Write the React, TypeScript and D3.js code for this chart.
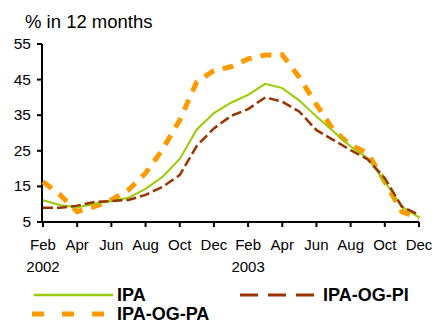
import React from "react";
import * as d3 from "d3";

const monthLabels = ["Feb", "Apr", "Jun", "Aug", "Oct", "Dec", "Feb", "Apr", "Jun", "Aug", "Oct", "Dec"];
const yearLabels = [
  { idx: 0, label: "2002" },
  { idx: 12, label: "2003" },
];
const yTicks = [5, 15, 25, 35, 45, 55];

const ipa = [11.1, 9.8, 9.1, 10.1, 10.9, 11.8, 14.3, 17.7, 22.7, 31.0, 35.6, 38.5, 40.7, 43.8, 42.6, 39.1, 34.6, 30.4, 26.2, 22.9, 16.3, 9.3, 6.3];
const ipaOgPi = [9.0, 9.0, 9.6, 10.6, 10.9, 11.2, 12.6, 14.9, 18.2, 26.4, 31.3, 34.8, 36.7, 40.0, 38.8, 36.0, 30.8, 28.0, 25.2, 22.6, 17.3, 9.3, 7.0];
const ipaOgPa = [16.3, 12.6, 7.9, 9.3, 11.2, 14.0, 18.7, 25.4, 33.6, 44.4, 47.5, 48.6, 50.8, 51.9, 52.0, 45.6, 38.0, 30.8, 26.6, 24.3, 16.3, 7.9, 6.0];

const W = 445;
const H = 324;
const FONT = "Arial, 'Liberation Sans', Helvetica, sans-serif";

export default function App() {
  const x = d3.scaleLinear().domain([0, 22]).range([43, 419]);
  const y = d3.scaleLinear().domain([5, 55]).range([222, 44]);
  const line = d3
    .line<number>()
    .x((_, i) => x(i))
    .y((d) => y(d));

  const x0 = x(0) - 1;
  const yBase = y(5);

  return (
    <svg
      width={W}
      height={H}
      style={{ position: "absolute", left: 0, top: 0, background: "#fff" }}
      fontFamily={FONT}
    >
      <text x={25} y={28} fontSize={18.5} fill="#000">
        % in 12 months
      </text>

      {/* y axis */}
      <line x1={x0} x2={x0} y1={y(55)} y2={yBase} stroke="#000" strokeWidth={2} />
      {yTicks.map((t) => (
        <g key={t}>
          <line x1={x0 - 5} x2={x0} y1={y(t)} y2={y(t)} stroke="#000" strokeWidth={2} />
          <text x={31} y={y(t) + 5} fontSize={15.5} textAnchor="end" fill="#000">
            {t}
          </text>
        </g>
      ))}

      {/* series */}
      <path d={line(ipaOgPa) || ""} fill="none" stroke="#ff9900" strokeWidth={5} strokeDasharray="11,9" />
      <path d={line(ipa) || ""} fill="none" stroke="#99cc00" strokeWidth={2} />
      <path d={line(ipaOgPi) || ""} fill="none" stroke="#993300" strokeWidth={2.5} strokeDasharray="10,4" />

      {/* x axis */}
      <line x1={x0} x2={x(22)} y1={yBase} y2={yBase} stroke="#000" strokeWidth={2} />
      {monthLabels.map((m, k) => (
        <g key={k}>
          <line x1={x(k * 2)} x2={x(k * 2)} y1={yBase} y2={yBase + 5} stroke="#000" strokeWidth={2} />
          <text x={x(k * 2)} y={250} fontSize={15} textAnchor="middle" fill="#000">
            {m}
          </text>
        </g>
      ))}
      {yearLabels.map((yl) => (
        <text key={yl.label} x={x(yl.idx)} y={272} fontSize={15} textAnchor="middle" fill="#000">
          {yl.label}
        </text>
      ))}

      {/* legend */}
      <line x1={34} x2={113} y1={295} y2={295} stroke="#99cc00" strokeWidth={2.5} />
      <text x={117} y={301} fontSize={18} fontWeight="bold" fill="#000">IPA</text>
      <line x1={240} x2={314} y1={295} y2={295} stroke="#993300" strokeWidth={3} strokeDasharray="18,10" />
      <text x={323} y={301} fontSize={18} fontWeight="bold" fill="#000">IPA-OG-PI</text>
      <line x1={32} x2={104} y1={314} y2={314} stroke="#ff9900" strokeWidth={5} strokeDasharray="12,18" />
      <text x={117} y={320} fontSize={18} fontWeight="bold" fill="#000">IPA-OG-PA</text>
    </svg>
  );
}
